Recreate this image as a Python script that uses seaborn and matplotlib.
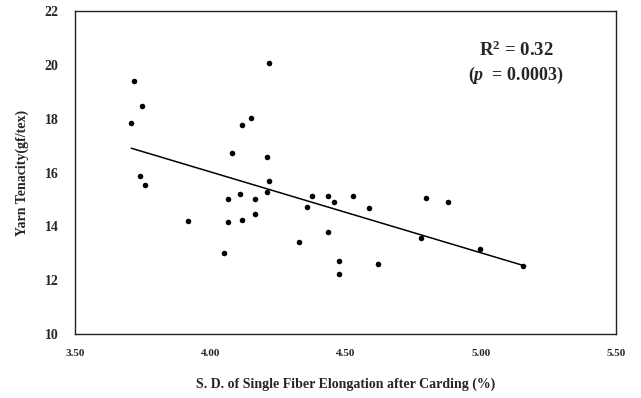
import numpy as np
import pandas as pd
import seaborn as sns
import matplotlib
matplotlib.use('Agg')
import matplotlib.pyplot as plt

# values
sd_elongation = [3.718, 4.218, 3.748, 3.708, 4.149, 4.117, 4.079, 4.210, 3.740, 3.758,
                 4.218, 4.210, 4.110, 4.067, 4.165, 4.377, 4.436, 4.529, 3.917, 4.067,
                 4.117, 4.165, 4.050, 4.459, 4.359, 4.586, 4.329, 4.436, 4.477, 4.477,
                 4.619, 4.799, 4.878, 4.778, 4.998, 5.157]
tenacity = [19.39, 20.06, 18.48, 17.83, 18.02, 17.76, 16.72, 16.59, 15.86, 15.55,
            15.70, 15.28, 15.19, 15.02, 15.02, 15.12, 15.12, 15.12, 14.20, 14.16,
            14.25, 14.45, 13.00, 14.91, 14.72, 14.68, 13.41, 13.79, 12.72, 12.23,
            12.61, 15.06, 14.91, 13.57, 13.15, 12.52]
x_ticks = [3.5, 4.0, 4.5, 5.0, 5.5]
y_ticks = [10, 12, 14, 16, 18, 20, 22]

df = pd.DataFrame({'sd': sd_elongation, 'ten': tenacity})

sns.set_style('white')
plt.rcParams['font.family'] = ['Liberation Serif', 'DejaVu Serif']
plt.rcParams['font.weight'] = 'bold'
plt.rcParams['mathtext.fontset'] = 'custom'
plt.rcParams['mathtext.rm'] = 'Liberation Serif:bold'
plt.rcParams['mathtext.bf'] = 'Liberation Serif:bold'
plt.rcParams['mathtext.it'] = 'Liberation Serif:bold:italic'

fig = plt.figure(figsize=(6.41, 3.98), dpi=100)
ax = fig.add_axes([0.117, 0.161, 0.844, 0.811])

sns.regplot(data=df, x='sd', y='ten', ax=ax, ci=None, truncate=True,
            scatter_kws={'s': 16, 'color': 'black', 'linewidths': 0, 'alpha': 1},
            line_kws={'color': 'black', 'linewidth': 1.1})

ax.set_xlim(3.5, 5.5)
ax.set_ylim(10, 22)
ax.set_xticks(x_ticks)
ax.set_xticklabels(['%.2f' % t for t in x_ticks], fontsize=8, fontweight='bold')
ax.set_yticks(y_ticks)
ax.set_yticklabels([str(t) for t in y_ticks], fontsize=10, fontweight='bold')
ax.tick_params(axis='both', direction='in', length=3, width=0.6, color='#555555')
ax.tick_params(axis='x', pad=11)
ax.tick_params(axis='y', pad=12)
for s in ax.spines.values():
    s.set_color('#222222')
    s.set_linewidth(1.0)

ax.set_xlabel('S. D. of Single Fiber Elongation after Carding (%)', fontsize=10,
              fontweight='bold', labelpad=14)
ax.set_ylabel('Yarn Tenacity(gf/tex)', fontsize=10, fontweight='bold', labelpad=11)

ax.text(0.815, 0.879, r'$\mathbf{R^2}$ = 0.32', transform=ax.transAxes, ha='center',
        va='center', fontsize=13.5, fontweight='bold')
ax.text(0.815, 0.802, r'($\mathit{p}$  = 0.0003)', transform=ax.transAxes, ha='center',
        va='center', fontsize=13, fontweight='bold')

fig.savefig('out.png', dpi=100)
